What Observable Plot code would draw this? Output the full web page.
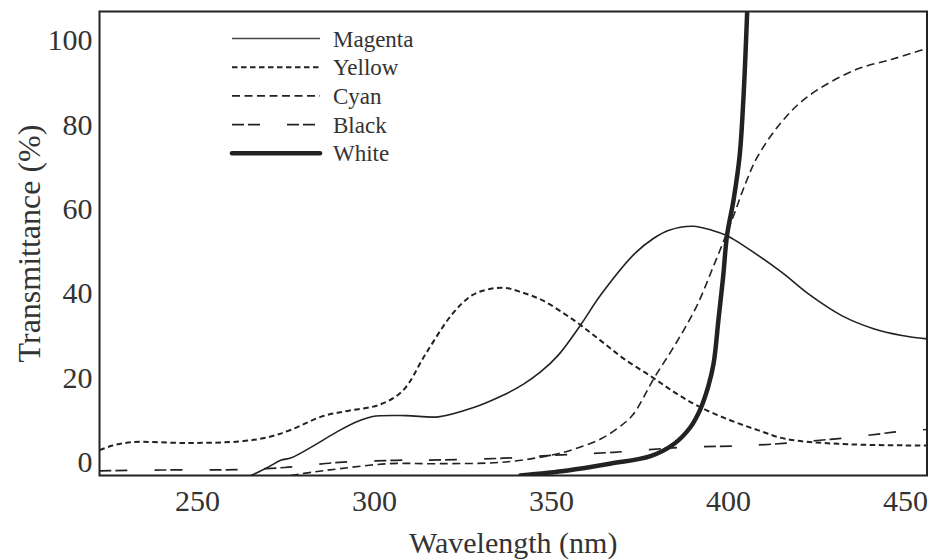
<!DOCTYPE html>
<html>
<head>
<meta charset="utf-8">
<script src="https://cdn.jsdelivr.net/npm/d3@7"></script>
<script src="https://cdn.jsdelivr.net/npm/@observablehq/plot@0.6"></script>
<style>
  html, body { margin: 0; padding: 0; background: #fff; }
  #wrap { position: relative; width: 931px; height: 560px; }
  #legend { position: absolute; left: 0; top: 0; }
</style>
</head>
<body>
<div id="wrap"></div>
<script>
// ---- data ----
const seriesNames = ["Magenta", "Yellow", "Cyan", "Black", "White"];

const magentaNm  = [265.1, 269.8, 273.5, 276.5, 282.5, 289.5, 295.5, 299.5, 309, 318, 328, 336, 342, 347, 352, 358, 364, 373.5, 379, 383, 390, 395.5, 399.5, 403.5, 415, 422.5, 432, 441, 449, 456.1];
const magentaVal = [-3.1, -1.2, 0.5, 1.1, 3.8, 7.3, 9.8, 10.9, 11.1, 10.8, 13, 15.8, 18.5, 21.5, 25.5, 32.3, 39.8, 49.5, 53.2, 55, 56, 55, 53.8, 51.8, 45.1, 40, 34.8, 31.7, 30.1, 29.3];

const yellowNm  = [222.3, 226, 231.5, 247.5, 262.2, 270, 276.3, 285.5, 293, 301.5, 308, 314.5, 322, 327.5, 332, 336.5, 341, 347.5, 356.5, 363.7, 370.6, 378.5, 385, 392, 400.5, 408.5, 416, 431, 456.1];
const yellowVal = [2.9, 4, 4.8, 4.6, 5, 6, 7.7, 11, 12.3, 13.7, 17, 25.8, 35.2, 39.6, 41, 41.4, 40.5, 38.4, 33.6, 29, 24.5, 20.2, 16.5, 13.1, 10, 7.6, 5.6, 4.4, 4];

const cyanNm  = [276.3, 282.5, 290, 304, 318, 337, 351.5, 358, 364, 369, 373, 379, 385, 391, 396, 401, 405, 408.1, 414.6, 422.2, 435.4, 446.7, 455.5];
const cyanVal = [-3.1, -2.3, -1.5, -0.3, -0.3, 0.1, 2, 3.6, 5.6, 8.3, 11.3, 20, 28, 37, 47, 57.5, 66.5, 72.3, 80.3, 86.6, 92.9, 95.7, 98];

const blackNm  = [222.3, 240, 261.8, 274.6, 290, 306, 319.5, 336.5, 353, 367.5, 387.5, 402.5, 415.5, 425, 433, 443, 449, 456.1];
const blackVal = [-2, -1.8, -1.7, -1.2, 0, 0.5, 0.6, 1, 1.8, 2.4, 3.6, 3.9, 4.5, 5.2, 5.8, 6.8, 7.4, 7.8];

const whiteNm  = [341.2, 354.6, 366.5, 378, 384.5, 389.3, 392.1, 394.3, 395.8, 397.2, 398.5, 399.6, 401.5, 403.2, 404.3, 405.3];
const whiteVal = [-3.1, -1.9, -0.3, 1.5, 4.3, 8.4, 12.7, 18, 23.4, 34, 44, 53.8, 62.5, 73, 87.4, 107];

const xTicks = [250, 300, 350, 400, 450];
const yTicks = [0, 20, 40, 60, 80, 100];
const xTitle = "Wavelength (nm)";
const yTitle = "Transmittance (%)";

// ---- build tables ----
const toRows = (name, xs, ys) => xs.map((x, i) => ({series: name, nm: x, t: ys[i]}));
const tables = {
  Magenta: toRows("Magenta", magentaNm, magentaVal),
  Yellow: toRows("Yellow", yellowNm, yellowVal),
  Cyan: toRows("Cyan", cyanNm, cyanVal),
  Black: toRows("Black", blackNm, blackVal),
  White: toRows("White", whiteNm, whiteVal)
};

const ink = "#222";
const styles = {
  Magenta: {strokeWidth: 1.6, dash: null},
  Yellow:  {strokeWidth: 2.0, dash: "5.5,3.5"},
  Cyan:    {strokeWidth: 1.6, dash: "8,4.5"},
  Black:   {strokeWidth: 1.7, dash: "12,4,12,27"},
  White:   {strokeWidth: 4.5, dash: null}
};

const font = "'Liberation Serif', 'DejaVu Serif', serif";

const lineMarks = seriesNames.map(name => Plot.line(tables[name], {
  x: "nm", y: "t",
  stroke: ink,
  strokeWidth: styles[name].strokeWidth,
  strokeDasharray: styles[name].dash ?? undefined,
  curve: "catmull-rom",
  strokeLinecap: name === "White" ? "round" : "butt",
  clip: true
}));

const chart = Plot.plot({
  width: 931,
  height: 560,
  marginLeft: 99,
  marginRight: 4.5,
  marginTop: 11,
  marginBottom: 85,
  style: {fontFamily: font, color: "#333", background: "#fff"},
  x: {domain: [222.3, 456.1], ticks: xTicks},
  y: {domain: [-3.1, 106.9], ticks: yTicks},
  marks: [
    Plot.axisX({ticks: xTicks, tickSize: 0, tickPadding: 14, fontSize: 30, label: null, fill: "#333"}),
    Plot.axisY({ticks: yTicks, tickSize: 0, tickPadding: 7, fontSize: 30, label: null, fill: "#333"}),
    ...lineMarks,
    Plot.frame({stroke: ink, strokeWidth: 2}),
    Plot.text([xTitle], {frameAnchor: "bottom", dy: 68, text: d => d, fontSize: 30, fill: "#333", lineAnchor: "middle"}),
    Plot.text([yTitle], {frameAnchor: "left", dx: -70, rotate: -90, text: d => d, fontSize: 32, fill: "#333", textAnchor: "middle", lineAnchor: "middle"})
  ]
});

const wrap = document.getElementById("wrap");
wrap.appendChild(chart);

// ---- legend overlay (inside plot, top-left) ----
const legend = d3.select(wrap).append("svg")
  .attr("id", "legend")
  .attr("width", 931).attr("height", 560)
  .style("pointer-events", "none");
const rowGap = 28.7;
const g = legend.append("g").attr("transform", "translate(232,38.5)");
seriesNames.forEach((name, i) => {
  const row = g.append("g").attr("transform", `translate(0,${i * rowGap})`);
  row.append("line")
    .attr("x1", 0).attr("x2", 88).attr("y1", 0).attr("y2", 0)
    .attr("stroke", name === "Magenta" ? "#444" : ink)
    .attr("stroke-width", styles[name].strokeWidth)
    .attr("stroke-linecap", name === "White" ? "round" : "butt")
    .attr("stroke-dasharray", styles[name].dash);
  row.append("text")
    .attr("x", 101).attr("y", 0).attr("dy", "0.35em")
    .attr("font-family", font).attr("font-size", 23).attr("fill", "#333")
    .text(name);
});
</script>
</body>
</html>
